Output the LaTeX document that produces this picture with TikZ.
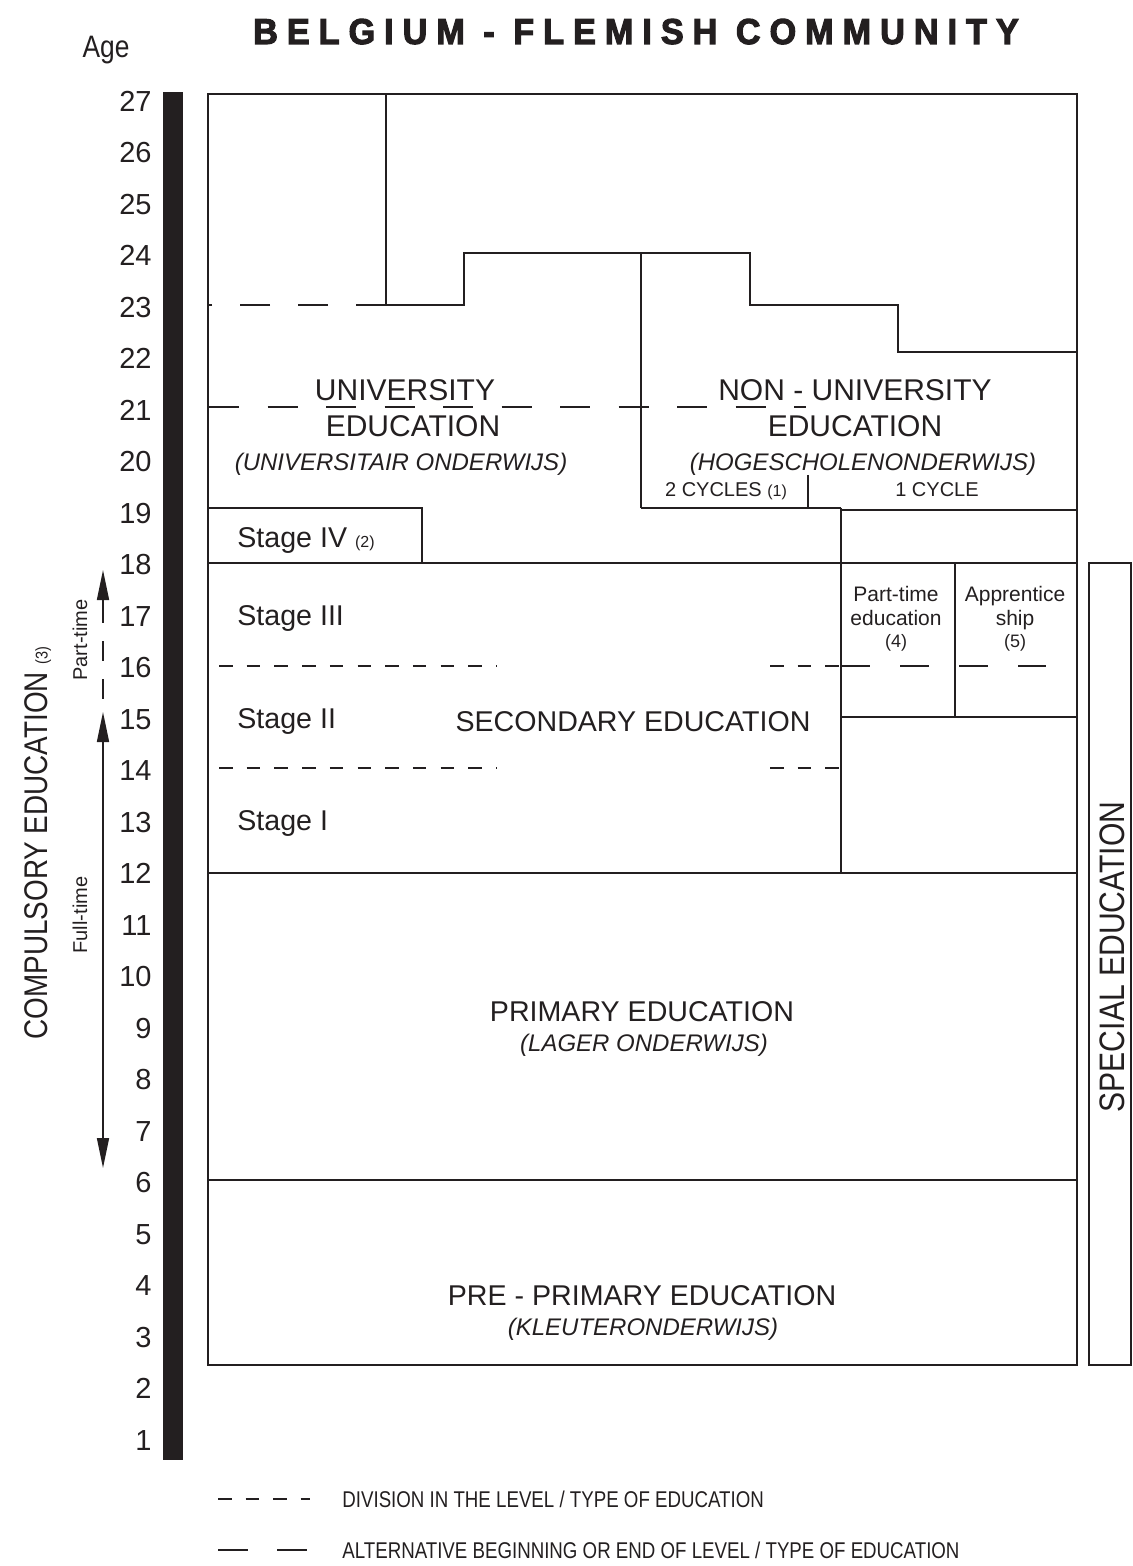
\documentclass[tikz,border=0pt]{standalone}
\usepackage{fontspec}
\setmainfont{Liberation Sans}
\newfontfamily\condf{Liberation Sans}[FakeStretch=0.85]
\newfontfamily\legfont{Liberation Sans}[FakeStretch=0.82]
\newfontfamily\titlef{Liberation Sans}[LetterSpace=25,FakeStretch=0.95,FakeBold=3]
\usetikzlibrary{arrows.meta}
\definecolor{ink}{HTML}{231F20}
\begin{document}
\begin{tikzpicture}[x=0.5pt,y=-0.5pt,
  every node/.style={inner sep=0pt, text=ink},
  outl/.style={line width=1.2pt, draw=ink},
  inln/.style={line width=0.9pt, draw=ink},
  longdash/.style={line width=1.1pt, draw=ink, dash pattern=on 15pt off 14pt},
  ndash/.style={line width=1.1pt, draw=ink, dash pattern=on 15pt off 14.25pt},
  shortdash/.style={line width=1.1pt, draw=ink, dash pattern=on 6.75pt off 7.1pt},
  numf/.style={font=\fontsize{14.5}{17}\selectfont},
  big/.style={font=\fontsize{14.3}{17}\selectfont},
  bigger/.style={font=\fontsize{15}{18}\selectfont},
  ital/.style={font=\fontsize{12}{14}\selectfont\itshape},
  small/.style={font=\fontsize{10}{12}\selectfont},
  legf/.style={font=\legfont\fontsize{11.4}{13}\selectfont},
  arr/.style={line width=0.8pt, draw=ink},
  tip/.style={-{Triangle[length=15pt,width=6pt]}}
]
\useasboundingbox (0,0) rectangle (1132,1566);

% title and age
\node[anchor=base, font=\titlef\bfseries\fontsize{18}{21}\selectfont] (title) at (636,44) {BELGIUM - FLEMISH COMMUNITY};
\node[anchor=base, font=\condf\fontsize{15.5}{18}\selectfont] (age) at (106,58) {Age};

% age bar and numbers
\fill[ink] (163,92) rectangle (183,1460);
\foreach \a in {1,...,27}{
  \node[numf, anchor=base east] (n\a) at (152,{111.4+(27-\a)*51.5}) {\a};
}

% main box and lines
\draw[outl] (208,94) rectangle (1077,1365);
\draw[outl] (208,873) -- (1077,873);
\draw[outl] (208,1180) -- (1077,1180);
\draw[outl] (208,563) -- (1077,563);
\draw[outl] (208,508) -- (422,508) -- (422,563);
\draw[outl] (841,508) -- (841,873);
\draw[outl] (641,508) -- (841,508);
\draw[outl] (841,510) -- (1077,510);
\draw[inln] (641,253) -- (641,508);
\draw[inln] (808,475) -- (808,508);
\draw[inln] (386,94) -- (386,305);
\draw[outl] (386,305) -- (464,305) -- (464,253) -- (750,253) -- (750,305) -- (898,305) -- (898,352) -- (1077,352);
\draw[outl] (841,717) -- (1077,717);
\draw[outl] (955,563) -- (955,717);

% dashed lines
\draw[longdash] (386,305) -- (208,305);
\draw[ndash] (209,407) -- (806,407);
\draw[shortdash] (219,666) -- (497,666);
\draw[shortdash] (770,666) -- (841,666);
\draw[shortdash] (219,768) -- (497,768);
\draw[shortdash] (770,768) -- (841,768);
\draw[line width=1.1pt, draw=ink, dash pattern=on 14.5pt off 15pt] (841,666) -- (1046,666);

% special education box
\draw[outl] (1089,563) rectangle (1131,1365);

% texts
\node[bigger, anchor=base] (uni1) at (405,401) {UNIVERSITY};
\node[bigger, anchor=base] (uni2) at (413,437) {EDUCATION};
\node[ital, anchor=base] (uni3) at (401,470.5) {(UNIVERSITAIR ONDERWIJS)};
\node[bigger, anchor=base] (nu1) at (855,401) {NON - UNIVERSITY};
\node[bigger, anchor=base] (nu2) at (855,437) {EDUCATION};
\node[ital, anchor=base] (nu3) at (863,470.5) {(HOGESCHOLENONDERWIJS)};
\node[small, anchor=base] (cyc2) at (726,496) {2 CYCLES {\fontsize{8}{10}\selectfont(1)}};
\node[small, anchor=base] (cyc1) at (937,496) {1 CYCLE};

\node[big, anchor=base west] (s4) at (237,547) {Stage IV {\fontsize{8}{10}\selectfont(2)}};
\node[big, anchor=base west] (s3) at (237,625) {Stage III};
\node[big, anchor=base west] (s2) at (237,728) {Stage II};
\node[big, anchor=base west] (s1) at (237,830) {Stage I};
\node[big, anchor=base] (sec) at (633,731) {SECONDARY EDUCATION};

\node[font=\fontsize{10.5}{12}\selectfont, anchor=base] (pt1) at (896,601.5) {Part-time};
\node[font=\fontsize{10.5}{12}\selectfont, anchor=base] (pt2) at (896,625.5) {education};
\node[font=\fontsize{9}{11}\selectfont, anchor=base] (pt3) at (896,647) {(4)};
\node[font=\fontsize{10.5}{12}\selectfont, anchor=base] (ap1) at (1015,601.5) {Apprentice};
\node[font=\fontsize{10.5}{12}\selectfont, anchor=base] (ap2) at (1015,625.5) {ship};
\node[font=\fontsize{9}{11}\selectfont, anchor=base] (ap3) at (1015,647) {(5)};

\node[big, anchor=base] (pri1) at (642,1021) {PRIMARY EDUCATION};
\node[ital, anchor=base] (pri2) at (644,1051) {(LAGER ONDERWIJS)};
\node[big, anchor=base] (pp1) at (642,1305) {PRE - PRIMARY EDUCATION};
\node[ital, anchor=base] (pp2) at (643,1335.5) {(KLEUTERONDERWIJS)};

\node[rotate=90, font=\condf\fontsize{17.7}{20}\selectfont] (spec) at (1112,957) {SPECIAL EDUCATION};
\node[rotate=90, font=\condf\fontsize{16.4}{19}\selectfont] (comp) at (38,843) {COMPULSORY EDUCATION {\fontsize{8.5}{10}\selectfont(3)}};
\node[rotate=90, font=\fontsize{10}{12}\selectfont] (ptl) at (80,640) {Part-time};
\node[rotate=90, font=\fontsize{10}{12}\selectfont] (ftl) at (80,915) {Full-time};

% arrows
\coordinate (a1) at (103,605);
\coordinate (a0) at (103,570);
\coordinate (a2) at (103,712);
\coordinate (a3) at (103,1168);
\draw[arr, tip] (a1) -- (a0);
\draw[arr, dash pattern=on 10pt off 9pt] (103,603) -- (103,712);
\draw[arr, {Triangle[length=15pt,width=6pt]}-{Triangle[length=15pt,width=6pt]}] (a2) -- (a3);

% legend
\draw[line width=1.1pt, draw=ink, dash pattern=on 6.75pt off 7pt] (218,1499) coordinate (l1a) -- (310,1499) coordinate (l1b);
\node[legf, anchor=base west] (leg1) at (342,1507) {DIVISION IN THE LEVEL / TYPE OF EDUCATION};
\draw[line width=1.1pt, draw=ink, dash pattern=on 15pt off 14.5pt] (218,1550) coordinate (l2a) -- (307,1550) coordinate (l2b);
\node[legf, anchor=base west] (leg2) at (342,1558) {ALTERNATIVE BEGINNING OR END OF LEVEL / TYPE OF EDUCATION};
\end{tikzpicture}
\end{document}
